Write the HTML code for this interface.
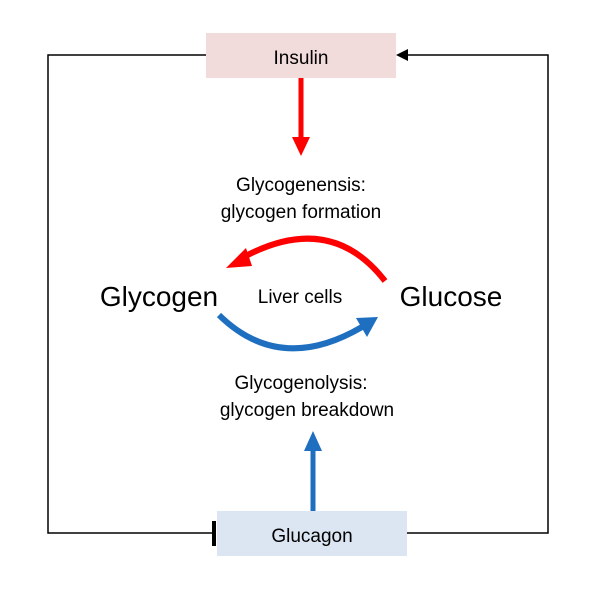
<!DOCTYPE html>
<html><head><style>
body{margin:0;background:#fff;width:610px;height:595px;overflow:hidden}
svg{display:block}
text{font-family:"Liberation Sans",sans-serif;fill:#000}
</style></head><body>
<svg width="610" height="595" viewBox="0 0 610 595">
<rect x="206" y="33" width="190" height="45" fill="#f2dcdb"/>
<rect x="217" y="511" width="190" height="45" fill="#dce6f2"/>
<g stroke="#000" stroke-width="1.5" fill="none">
<polyline points="206,55 48,55 48,533 215,533"/>
<polyline points="407,533 548,533 548,55 407,55"/>
</g>
<polygon points="396,55 408,49 408,61" fill="#000"/>
<rect x="212" y="521" width="4" height="25" fill="#000"/>
<rect x="298.5" y="78" width="5" height="62" fill="#ff0000"/>
<polygon points="292,137 310,137 301,156" fill="#ff0000"/>
<rect x="310.5" y="448" width="5" height="63" fill="#1f6fc0"/>
<polygon points="304,451 322,451 313,431" fill="#1f6fc0"/>
<path d="M385,281 Q330,210 242,258" stroke="#ff0000" stroke-width="6" fill="none"/>
<polygon points="226,268 246,248 252,266" fill="#ff0000"/>
<path d="M219,315 Q280,375 362,327" stroke="#1f6fc0" stroke-width="6" fill="none"/>
<polygon points="378,317 356,318 367,337" fill="#1f6fc0"/>
<g text-anchor="middle" font-size="19">
<text x="301" y="64">Insulin</text>
<text x="312" y="542">Glucagon</text>
<text x="301" y="191">Glycogenensis:</text>
<text x="301" y="218">glycogen formation</text>
<text x="301" y="389">Glycogenolysis:</text>
<text x="307" y="416">glycogen breakdown</text>
<text x="300" y="303">Liver cells</text>
<text x="159" y="306" font-size="28">Glycogen</text>
<text x="451" y="306" font-size="28">Glucose</text>
</g>
</svg>
</body></html>
